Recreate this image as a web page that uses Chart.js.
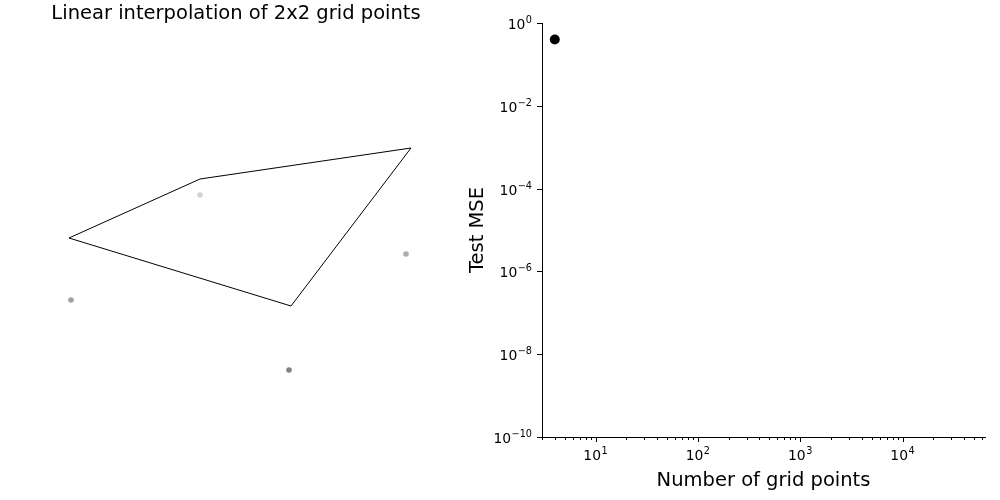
<!DOCTYPE html>
<html>
<head>
<meta charset="utf-8">
<script src="https://cdn.jsdelivr.net/npm/chart.js@4"></script>
<style>
  html, body { margin: 0; padding: 0; background: #fff; }
  #wrap { position: relative; width: 1000px; height: 500px; }
  canvas { position: absolute; top: 0; }
</style>
</head>
<body>
<div id="wrap">
  <canvas id="left" width="500" height="500" style="left:0"></canvas>
  <canvas id="right" width="560" height="500" style="left:440px"></canvas>
</div>
<script>
// left panel: projected 3D view (units 0..100 across the panel)
const surfaceX = [13.8, 40.0, 82.2, 58.2, 13.8];
const surfaceY = [52.4, 64.2, 70.4, 38.8, 52.4];
const sampleX = [40.0, 81.2, 14.2, 57.8];
const sampleY = [61.0, 49.2, 40.0, 26.0];
const sampleColors = ['#d2d2d2', '#adadad', '#a0a0a0', '#838383'];

// right panel: test error vs grid size
const gridPoints = [4];
const testMse = [0.4];
const yTickValues = [1e-10, 1e-8, 1e-6, 1e-4, 1e-2, 1];
const yTickExps = ['−10', '−8', '−6', '−4', '−2', '0'];
const xTickValues = [10, 100, 1000, 10000];
const xTickExps = ['1', '2', '3', '4'];

Chart.defaults.font.family = 'DejaVu Sans';
Chart.defaults.color = '#000';

const titlePlugin = {
    id: 'leftTitle',
    afterDraw(chart) {
        const ctx = chart.ctx;
        ctx.save();
        ctx.font = '19.5px DejaVu Sans';
        ctx.fillStyle = '#000';
        ctx.textAlign = 'center';
        ctx.textBaseline = 'middle';
        ctx.fillText('Linear interpolation of 2x2 grid points', 236, 14);
        ctx.restore();
    }
};

new Chart(document.getElementById('left'), {
    type: 'scatter',
    data: {
        datasets: [
            {
                data: surfaceX.map((x, i) => ({ x: x, y: surfaceY[i] })),
                showLine: true,
                borderColor: '#000',
                borderWidth: 1,
                pointRadius: 0,
                tension: 0
            },
            {
                data: sampleX.map((x, i) => ({ x: x, y: sampleY[i] })),
                pointRadius: 2.8,
                pointBackgroundColor: sampleColors,
                pointBorderWidth: 0
            }
        ]
    },
    options: {
        responsive: false,
        animation: false,
        layout: { padding: 0, autoPadding: false },
        scales: {
            x: { type: 'linear', min: 0, max: 100, display: false },
            y: { type: 'linear', min: 0, max: 100, display: false }
        },
        plugins: { legend: { display: false }, tooltip: { enabled: false } }
    },
    plugins: [titlePlugin]
});

// draws "10" with a raised exponent, the way mathtext does
function drawPower(ctx, exp, x, baseY, align) {
    ctx.font = '13.9px DejaVu Sans';
    const wBase = ctx.measureText('10').width;
    ctx.font = '9.7px DejaVu Sans';
    const wExp = ctx.measureText(exp).width;
    const total = wBase + wExp + 0.5;
    let left = x;
    if (align === 'right') left = x - total;
    if (align === 'center') left = x - total / 2;
    ctx.textAlign = 'left';
    ctx.textBaseline = 'alphabetic';
    ctx.font = '13.9px DejaVu Sans';
    ctx.fillText('10', left, baseY);
    ctx.font = '9.7px DejaVu Sans';
    ctx.fillText(exp, left + wBase + 0.5, baseY - 6);
}

// tick marks and labels of the log axes
const logTicksPlugin = {
    id: 'logTicks',
    afterDraw(chart) {
        const sx = chart.scales.x;
        const sy = chart.scales.y;
        const ctx = chart.ctx;
        const y0 = chart.chartArea.bottom;
        const x0 = chart.chartArea.left;
        ctx.save();
        ctx.strokeStyle = '#000';
        ctx.fillStyle = '#000';
        ctx.lineWidth = 1;
        sx.ticks.forEach(t => {
            const px = Math.round(sx.getPixelForValue(t.value)) + 0.5;
            const len = xTickValues.includes(t.value) ? 5 : 3;
            ctx.beginPath();
            ctx.moveTo(px, y0);
            ctx.lineTo(px, y0 + len);
            ctx.stroke();
        });
        xTickValues.forEach((v, i) => {
            drawPower(ctx, xTickExps[i], sx.getPixelForValue(v), y0 + 23, 'center');
        });
        yTickValues.forEach((v, i) => {
            const py = Math.round(sy.getPixelForValue(v)) + 0.5;
            ctx.beginPath();
            ctx.moveTo(x0 - 5, py);
            ctx.lineTo(x0, py);
            ctx.stroke();
            drawPower(ctx, yTickExps[i], x0 - 10, py + 5, 'right');
        });
        ctx.restore();
    }
};

new Chart(document.getElementById('right'), {
    type: 'scatter',
    data: {
        datasets: [{
            data: gridPoints.map((x, i) => ({ x: x, y: testMse[i] })),
            pointRadius: 5,
            pointBackgroundColor: '#000',
            pointBorderWidth: 0
        }]
    },
    options: {
        responsive: false,
        animation: false,
        layout: { padding: { top: 23, right: 15, left: 26, bottom: 0 }, autoPadding: false },
        scales: {
            x: {
                type: 'logarithmic',
                min: 3,
                max: 64000,
                afterBuildTicks(scale) {
                    const ticks = [];
                    for (let e = 0; e <= 4; e++) {
                        for (let m = 1; m <= 9; m++) {
                            const v = m * Math.pow(10, e);
                            if (v >= 3 && v <= 64000) ticks.push({ value: v });
                        }
                    }
                    scale.ticks = ticks;
                },
                afterFit(scale) { scale.height = 63; },
                border: { display: true, color: '#000', width: 1 },
                grid: { display: false },
                ticks: { autoSkip: false, maxRotation: 0, callback: () => '' },
                title: {
                    display: true,
                    text: 'Number of grid points',
                    font: { size: 19.5 },
                    padding: { top: 0, bottom: 7 }
                }
            },
            y: {
                type: 'logarithmic',
                min: 1e-10,
                max: 1,
                afterBuildTicks(scale) {
                    scale.ticks = yTickValues.map(v => ({ value: v }));
                },
                afterFit(scale) { scale.width = 76; },
                border: { display: true, color: '#000', width: 1 },
                grid: { display: false },
                ticks: { autoSkip: false, callback: () => '' },
                title: {
                    display: true,
                    text: 'Test MSE',
                    font: { size: 19.5 },
                    padding: 0
                }
            }
        },
        plugins: { legend: { display: false }, tooltip: { enabled: false } }
    },
    plugins: [logTicksPlugin]
});
</script>
</body>
</html>
